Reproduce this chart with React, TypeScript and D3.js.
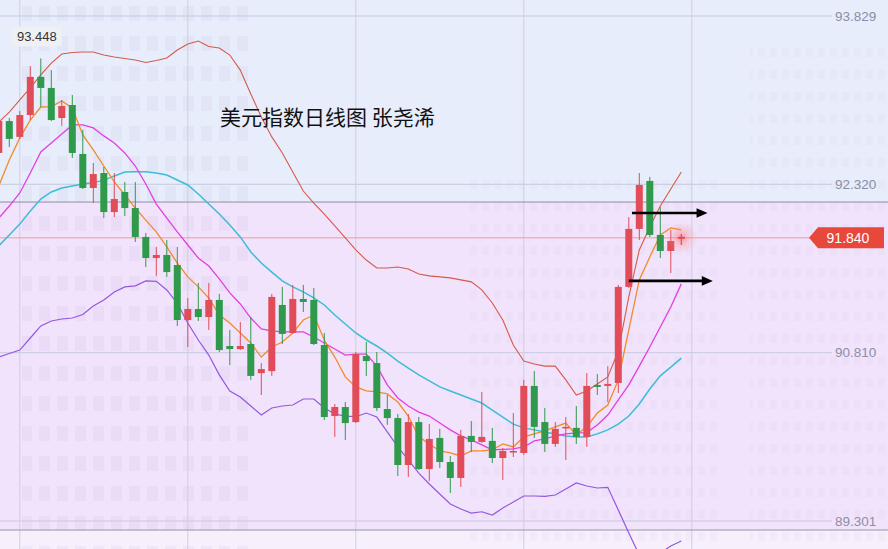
import React from "react";
import * as d3 from "d3";

// ---- Data (US Dollar Index daily) ----
const opens = [92.601,92.887,92.745,92.941,93.283,93.184,92.914,93.031,92.592,92.287,92.421,92.071,92.251,92.107,91.848,91.659,91.686,91.596,91.103,91.202,91.130,91.283,90.870,90.843,90.888,90.627,90.645,91.238,90.987,91.292,91.283,90.879,90.242,90.323,90.188,90.780,90.717,90.305,90.224,89.803,90.188,89.767,90.046,89.830,89.687,90.064,90.010,90.019,89.866,89.920,89.911,90.512,90.188,89.992,90.136,90.136,90.055,90.521,90.512,90.539,91.400,91.920,92.350,91.866,91.722,91.830];
const highs = [92.914,92.914,92.977,93.380,93.448,93.344,93.076,93.121,92.808,92.511,92.475,92.421,92.341,92.341,91.884,91.758,91.821,91.758,91.301,91.436,91.436,91.337,91.014,91.085,91.130,90.717,91.337,91.400,91.418,91.418,91.391,90.987,90.350,90.368,90.816,90.906,90.816,90.431,90.260,90.260,90.233,90.170,90.127,89.884,90.118,90.197,90.458,90.136,89.956,90.269,90.566,90.645,90.314,90.188,90.233,90.332,90.627,90.618,90.690,91.418,92.026,92.421,92.386,92.116,91.911,91.875];
const lows = [92.574,92.655,92.727,92.896,93.013,92.887,92.844,92.556,92.278,92.152,92.017,92.026,92.035,91.803,91.578,91.499,91.490,91.050,90.861,91.094,91.014,90.816,90.699,90.834,90.566,90.431,90.602,90.888,90.978,91.175,90.879,90.206,90.055,90.028,90.179,90.602,90.287,90.163,89.705,89.696,89.758,89.660,89.776,89.552,89.606,89.920,90.001,89.821,89.669,89.875,89.893,90.046,89.920,89.965,89.848,89.992,89.965,90.431,90.368,90.449,91.390,91.821,91.848,91.659,91.524,91.776];
const closes = [92.887,92.727,92.941,93.283,93.184,92.896,93.022,92.601,92.287,92.412,92.071,92.188,92.107,91.848,91.659,91.686,91.533,91.103,91.202,91.130,91.283,90.834,90.843,90.870,90.602,90.663,91.310,90.978,91.292,91.265,90.888,90.233,90.323,90.179,90.798,90.735,90.314,90.224,89.803,90.188,89.767,90.037,89.830,89.687,90.064,90.010,90.055,89.866,89.929,89.929,90.512,90.145,89.992,90.127,90.145,90.055,90.512,90.503,90.530,91.400,91.920,92.314,91.866,91.722,91.812,91.840];

const bandUpper = [92.878,92.968,93.076,93.184,93.301,93.407,93.488,93.502,93.506,93.506,93.479,93.461,93.448,93.434,93.412,93.430,93.452,93.524,93.578,93.605,93.556,93.542,93.479,93.344,93.130,92.923,92.745,92.601,92.430,92.260,92.152,92.053,91.947,91.839,91.731,91.641,91.569,91.569,91.578,91.560,91.515,91.499,91.490,91.481,91.463,91.445,91.373,91.256,91.103,90.879,90.735,90.708,90.690,90.690,90.566,90.431,90.467,90.530,90.593,90.825,91.310,91.731,91.938,92.125,92.278,92.430];
const bandLower = [90.771,90.803,90.834,90.942,91.050,91.094,91.112,91.121,91.153,91.229,91.283,91.355,91.400,91.409,91.454,91.450,91.373,91.252,91.076,90.924,90.789,90.611,90.467,90.413,90.332,90.251,90.314,90.332,90.341,90.395,90.395,90.314,90.260,90.242,90.236,90.269,90.233,90.100,89.965,89.848,89.731,89.633,89.543,89.453,89.408,89.372,89.384,89.354,89.417,89.471,89.525,89.525,89.521,89.534,89.588,89.642,89.615,89.597,89.603,89.399,89.194,88.996,88.897,89.014,89.077,89.122];
const ma5 = [92.305,92.538,92.736,92.896,93.013,93.016,93.067,93.004,92.763,92.628,92.484,92.341,92.224,92.107,91.999,91.893,91.758,91.614,91.490,91.400,91.301,91.148,91.076,90.987,90.897,90.771,90.861,90.906,90.987,91.103,91.148,90.924,90.771,90.593,90.503,90.467,90.458,90.440,90.368,90.242,90.055,89.992,89.929,89.911,89.884,89.929,89.929,89.938,89.992,89.965,90.055,90.082,90.109,90.145,90.179,90.073,90.145,90.269,90.341,90.566,91.014,91.463,91.668,91.866,91.929,91.911];
const ma10 = [92.017,92.125,92.242,92.421,92.610,92.691,92.772,92.852,92.852,92.826,92.754,92.691,92.601,92.484,92.323,92.143,92.017,91.893,91.776,91.659,91.587,91.472,91.346,91.247,91.121,91.023,91.005,90.996,90.996,90.996,90.951,90.897,90.843,90.789,90.798,90.798,90.690,90.521,90.404,90.332,90.278,90.242,90.179,90.118,90.064,90.028,89.983,89.938,89.943,89.947,89.965,90.019,90.037,90.064,90.082,90.091,90.094,90.162,90.251,90.386,90.521,90.690,90.861,91.041,91.220,91.427];
const ma20 = [91.767,91.866,91.963,92.080,92.188,92.251,92.287,92.305,92.323,92.337,92.355,92.395,92.430,92.433,92.433,92.421,92.403,92.359,92.314,92.233,92.143,92.053,91.955,91.848,91.713,91.614,91.533,91.454,91.400,91.355,91.301,91.238,91.148,91.067,90.987,90.924,90.870,90.807,90.735,90.672,90.611,90.557,90.503,90.467,90.431,90.395,90.359,90.296,90.233,90.170,90.136,90.118,90.100,90.082,90.064,90.055,90.055,90.082,90.118,90.170,90.242,90.350,90.485,90.602,90.681,90.762];

const priceTicks = ["93.829", "92.320", "90.810", "89.301"];
const gridIndex = [2, 18, 34, 50, 66];
const levelPrice = 92.161;
const bottomPrice = 89.22;
const lastPrice = 91.84;
const highLabel = "93.448";
const highIndex = 4;
const title = "美元指数日线图 张尧浠";
const arrows = [
  { from: 60.3, to: 67.5, price: 92.062 },
  { from: 60.0, to: 68.0, price: 91.454 },
];

const W = 888;
const H = 549;

export default function App() {
  const n = closes.length;
  const x = d3.scaleLinear().domain([0, 65]).range([-1.2, 681.3]);
  const y = d3.scaleLinear().domain([89.301, 93.829]).range([521, 16]);
  const idx = d3.range(n);
  const line = (arr: number[]) =>
    d3.line<number>().x((_, i) => x(i)).y((v) => y(v)).curve(d3.curveLinear)(arr) || "";

  const yLevel = y(levelPrice);
  const yBottom = y(bottomPrice);
  const yLast = y(lastPrice);
  const gridRight = 832;
  const red = "#e14c58";
  const green = "#2f9a4b";
  const bodyW = 7;

  const lastI = n - 1;
  const hx = x(highIndex);
  const hy = y(highs[highIndex]);

  return (
    <svg
      width={W}
      height={H}
      style={{ position: "absolute", left: 0, top: 0, display: "block" }}
      fontFamily="'Liberation Sans', Arial, sans-serif"
    >
      <defs>
        <pattern id="win" width="18" height="30" patternUnits="userSpaceOnUse">
          <rect x="3" y="6" width="11" height="15" fill="#b9b2d6" opacity="0.12" />
        </pattern>
        <pattern id="win2" width="12" height="22" patternUnits="userSpaceOnUse">
          <rect x="2" y="4" width="7" height="9" fill="#b9b2d6" opacity="0.08" />
        </pattern>
        <radialGradient id="glow">
          <stop offset="0%" stopColor="#ff5a5a" stopOpacity="0.55" />
          <stop offset="60%" stopColor="#ff8080" stopOpacity="0.2" />
          <stop offset="100%" stopColor="#ff9090" stopOpacity="0" />
        </radialGradient>
      </defs>

      {/* backgrounds */}
      <rect x={0} y={0} width={W} height={yLevel} fill="#e7edfa" />
      <rect x={0} y={yLevel} width={W} height={yBottom - yLevel} fill="#f1e3fb" />
      <rect x={0} y={yBottom} width={W} height={H - yBottom} fill="#f7effc" />
      {/* faint building texture */}
      <rect x={22} y={0} width={230} height={H} fill="url(#win)" />
      <rect x={470} y={170} width={250} height={H - 170} fill="url(#win2)" />
      <rect x={750} y={40} width={138} height={H - 40} fill="url(#win2)" />

      {/* grid */}
      {priceTicks.map((t) => (
        <line key={"h" + t} x1={0} x2={gridRight} y1={y(+t)} y2={y(+t)} stroke="#c6c9df" strokeWidth={1} />
      ))}
      {gridIndex.map((g) => (
        <line key={"v" + g} x1={x(g)} x2={x(g)} y1={0} y2={H} stroke="#cfcfe2" strokeWidth={1} />
      ))}
      <line x1={0} x2={W} y1={yLevel} y2={yLevel} stroke="#8d8d9e" strokeWidth={1} />
      <line x1={0} x2={W} y1={yBottom} y2={yBottom} stroke="#9a97a8" strokeWidth={1} />

      {/* axis labels */}
      {priceTicks.map((t) => (
        <text key={"t" + t} x={835} y={y(+t)} dy="0.35em" fontSize={13.5} fill="#8a8fa6">
          {t}
        </text>
      ))}

      {/* last price line */}
      <line x1={0} x2={810} y1={yLast} y2={yLast} stroke="#f09a9a" strokeWidth={1} />

      {/* indicator lines */}
      <path d={line(bandUpper)} fill="none" stroke="#d65a4a" strokeWidth={1.1} />
      <path d={line(bandLower)} fill="none" stroke="#9457e0" strokeWidth={1.2} />
      <path d={line(ma20)} fill="none" stroke="#3bbdd6" strokeWidth={1.5} />
      <path d={line(ma10)} fill="none" stroke="#e43ee2" strokeWidth={1.3} />
      <path d={line(ma5)} fill="none" stroke="#f38b27" strokeWidth={1.3} />

      {/* candles */}
      {idx.slice(0, lastI).map((i) => {
        const up = closes[i] >= opens[i];
        const c = up ? red : green;
        const top = y(Math.max(opens[i], closes[i]));
        const bot = y(Math.min(opens[i], closes[i]));
        const cx = x(i);
        return (
          <g key={i}>
            <line x1={cx} x2={cx} y1={y(highs[i])} y2={y(lows[i])} stroke={c} strokeWidth={1} />
            <rect x={cx - bodyW / 2} y={top} width={bodyW} height={Math.max(1.6, bot - top)} fill={c} />
          </g>
        );
      })}

      {/* current candle with glow */}
      <circle cx={x(lastI)} cy={y(closes[lastI])} r={16} fill="url(#glow)" />
      <line x1={x(lastI)} x2={x(lastI)} y1={y(highs[lastI])} y2={y(lows[lastI])} stroke={red} strokeWidth={1.2} />
      <rect
        x={x(lastI) - bodyW / 2}
        y={y(closes[lastI]) - 1}
        width={bodyW}
        height={2}
        fill={red}
      />

      {/* arrows */}
      {arrows.map((a, k) => {
        const x1 = x(a.from);
        const x2 = x(a.to);
        const yy = y(a.price);
        return (
          <g key={"a" + k}>
            <line x1={x1} x2={x2 - 8} y1={yy} y2={yy} stroke="#000" strokeWidth={2.6} />
            <path d={`M${x2 - 11},${yy - 4.8} L${x2},${yy} L${x2 - 11},${yy + 4.8} Z`} fill="#000" />
          </g>
        );
      })}

      {/* last price label */}
      <path
        d={`M809,${yLast} L818,${yLast - 10.5} L884,${yLast - 10.5} L884,${yLast + 10.5} L818,${yLast + 10.5} Z`}
        fill="#e8473b"
      />
      <text x={848} y={yLast} dy="0.36em" textAnchor="middle" fontSize={14} fill="#fff">
        {lastPrice.toFixed(3)}
      </text>

      {/* high label */}
      <rect x={hx - 29} y={hy - 32} width={50} height={20} rx={3} fill="#eef0f4" />
      <text x={hx - 4} y={hy - 22} dy="0.36em" textAnchor="middle" fontSize={13} fill="#333">
        {highLabel}
      </text>

      {/* title */}
      <text x={220} y={125} fontSize={21} fill="#111" fontFamily="'Noto Sans CJK SC', sans-serif">
        {title}
      </text>
    </svg>
  );
}
